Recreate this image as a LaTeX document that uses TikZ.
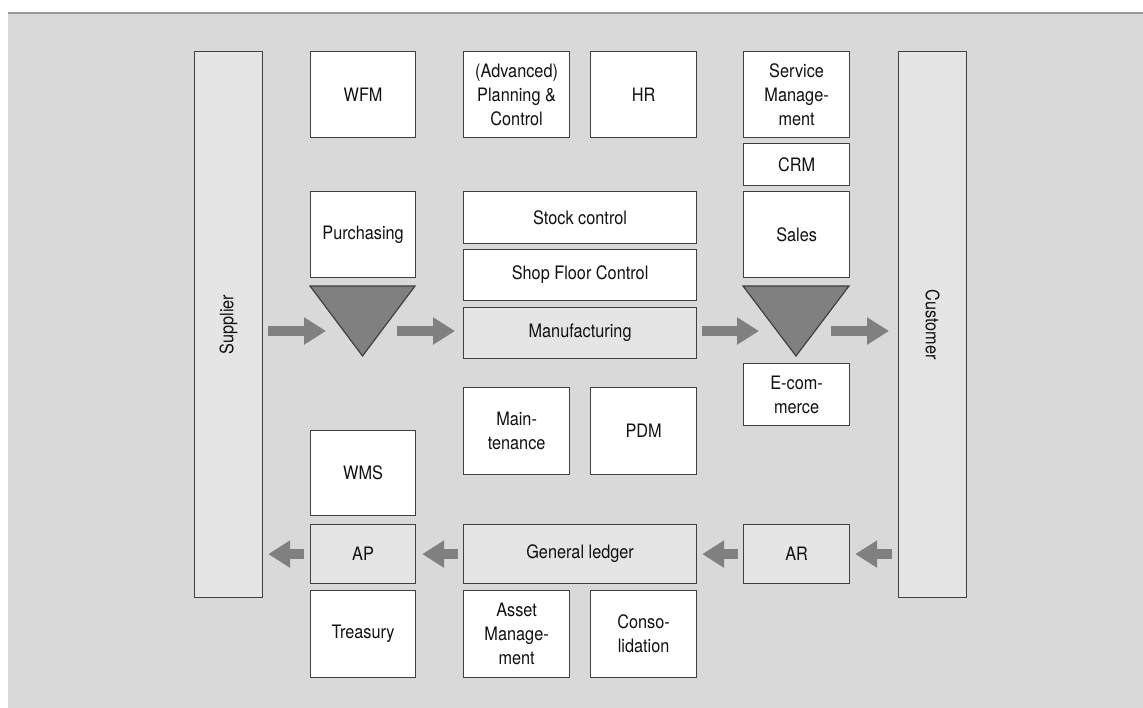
\documentclass[tikz,border=0pt]{standalone}
\usepackage{fontspec}
\setmainfont{TeX Gyre Heros}[FakeStretch=0.88]
\usetikzlibrary{arrows.meta,calc}
\definecolor{bg}{HTML}{D9D9D9}
\definecolor{topline}{HTML}{999999}
\definecolor{boxline}{HTML}{404040}
\definecolor{lightbox}{HTML}{E5E5E5}
\definecolor{arrowgray}{HTML}{808080}
\definecolor{trifill}{HTML}{808080}
\definecolor{txt}{HTML}{111111}
\begin{document}
\begin{tikzpicture}[x=1pt,y=-1pt,
  box/.style={draw=boxline, line width=1.2pt, fill=white, anchor=north west,
    inner sep=0pt, align=center, text=txt,
    font=\fontsize{18.5}{24}\selectfont},
  greybox/.style={box, fill=lightbox},
  tri/.style={draw=boxline, line width=1.2pt, fill=trifill, line join=miter},
  blockarrow/.style={draw=arrowgray, line width=10.5pt,
    -{Triangle[length=22pt,width=26pt]}},
  vlabel/.style={font=\fontsize{18.5}{24}\selectfont, text=txt}]
\useasboundingbox (0,0) rectangle (1143,708);
\fill[bg] (8,13) rectangle (1143,708);
\draw[topline, line width=1.7pt] (8,13) -- (1143,13);

% side columns
\node[greybox, minimum width=68, minimum height=546,
  label={[vlabel, rotate=90]center:Supplier}] (sup) at (194,51) {};
\node[greybox, minimum width=68, minimum height=546,
  label={[vlabel, rotate=-90]center:Customer}] (cus) at (898,51) {};

% top row
\node[box, minimum width=105, minimum height=86] (wfm) at (310,51) {WFM};
\node[box, minimum width=106, minimum height=86] (apc) at (463,51) {(Advanced)\\Planning \&\\Control};
\node[box, minimum width=106, minimum height=86] (hr) at (590,51) {HR};
\node[box, minimum width=106, minimum height=86] (svc) at (743,51) {Service\\Manage-\\ment};
\node[box, minimum width=106, minimum height=42] (crm) at (743,143) {CRM};

% middle
\node[box, minimum width=105, minimum height=86] (pur) at (310,191) {Purchasing};
\node[box, minimum width=233, minimum height=52] (stock) at (463,191) {Stock control};
\node[box, minimum width=233, minimum height=51] (shop) at (463,249) {Shop Floor Control};
\node[greybox, minimum width=233, minimum height=51] (mfg) at (463,307) {Manufacturing};
\node[box, minimum width=106, minimum height=86] (sales) at (743,191) {Sales};
\node[box, minimum width=106, minimum height=62] (ecom) at (743,363) {E-com-\\merce};
\node[box, minimum width=106, minimum height=87] (maint) at (463,387) {Main-\\tenance};
\node[box, minimum width=106, minimum height=87] (pdm) at (590,387) {PDM};
\node[box, minimum width=105, minimum height=85] (wms) at (310,430) {WMS};

% bottom
\node[greybox, minimum width=105, minimum height=59] (ap) at (310,524) {AP};
\node[greybox, minimum width=233, minimum height=59] (gl) at (463,524) {General ledger};
\node[greybox, minimum width=106, minimum height=59] (ar) at (743,524) {AR};
\node[box, minimum width=105, minimum height=87] (tre) at (310,590) {Treasury};
\node[box, minimum width=106, minimum height=87] (asset) at (463,590) {Asset\\Manage-\\ment};
\node[box, minimum width=106, minimum height=87] (cons) at (590,590) {Conso-\\lidation};

% triangles
\draw[tri] (310,286) -- (415,286) -- (362.5,356) -- cycle;
\draw[tri] (743,286) -- (849,286) -- (796,356) -- cycle;
\coordinate (t1l) at (344,331);
\coordinate (t1r) at (381,331);
\coordinate (t2l) at (777,331);
\coordinate (t2r) at (815,331);

% flow arrows
\draw[blockarrow] ([xshift=5pt]sup.east |- t1l) -- ([xshift=-18pt]t1l);
\draw[blockarrow] ([xshift=16pt]t1r) -- ([xshift=-8pt]mfg.west |- t1r);
\draw[blockarrow] ([xshift=5pt]mfg.east |- t2l) -- ([xshift=-18pt]t2l);
\draw[blockarrow] ([xshift=16pt]t2r) -- ([xshift=-9pt]cus.west |- t2r);

\draw[blockarrow] ([xshift=-6pt]cus.west |- ar.east) -- ([xshift=5pt]ar.east);
\draw[blockarrow] ([xshift=-5pt]ar.west) -- ([xshift=5pt]gl.east);
\draw[blockarrow] ([xshift=-5pt]gl.west) -- ([xshift=6pt]ap.east);
\draw[blockarrow] ([xshift=-6pt]ap.west) -- ([xshift=5pt]sup.east |- ap.west);
\end{tikzpicture}
\end{document}
